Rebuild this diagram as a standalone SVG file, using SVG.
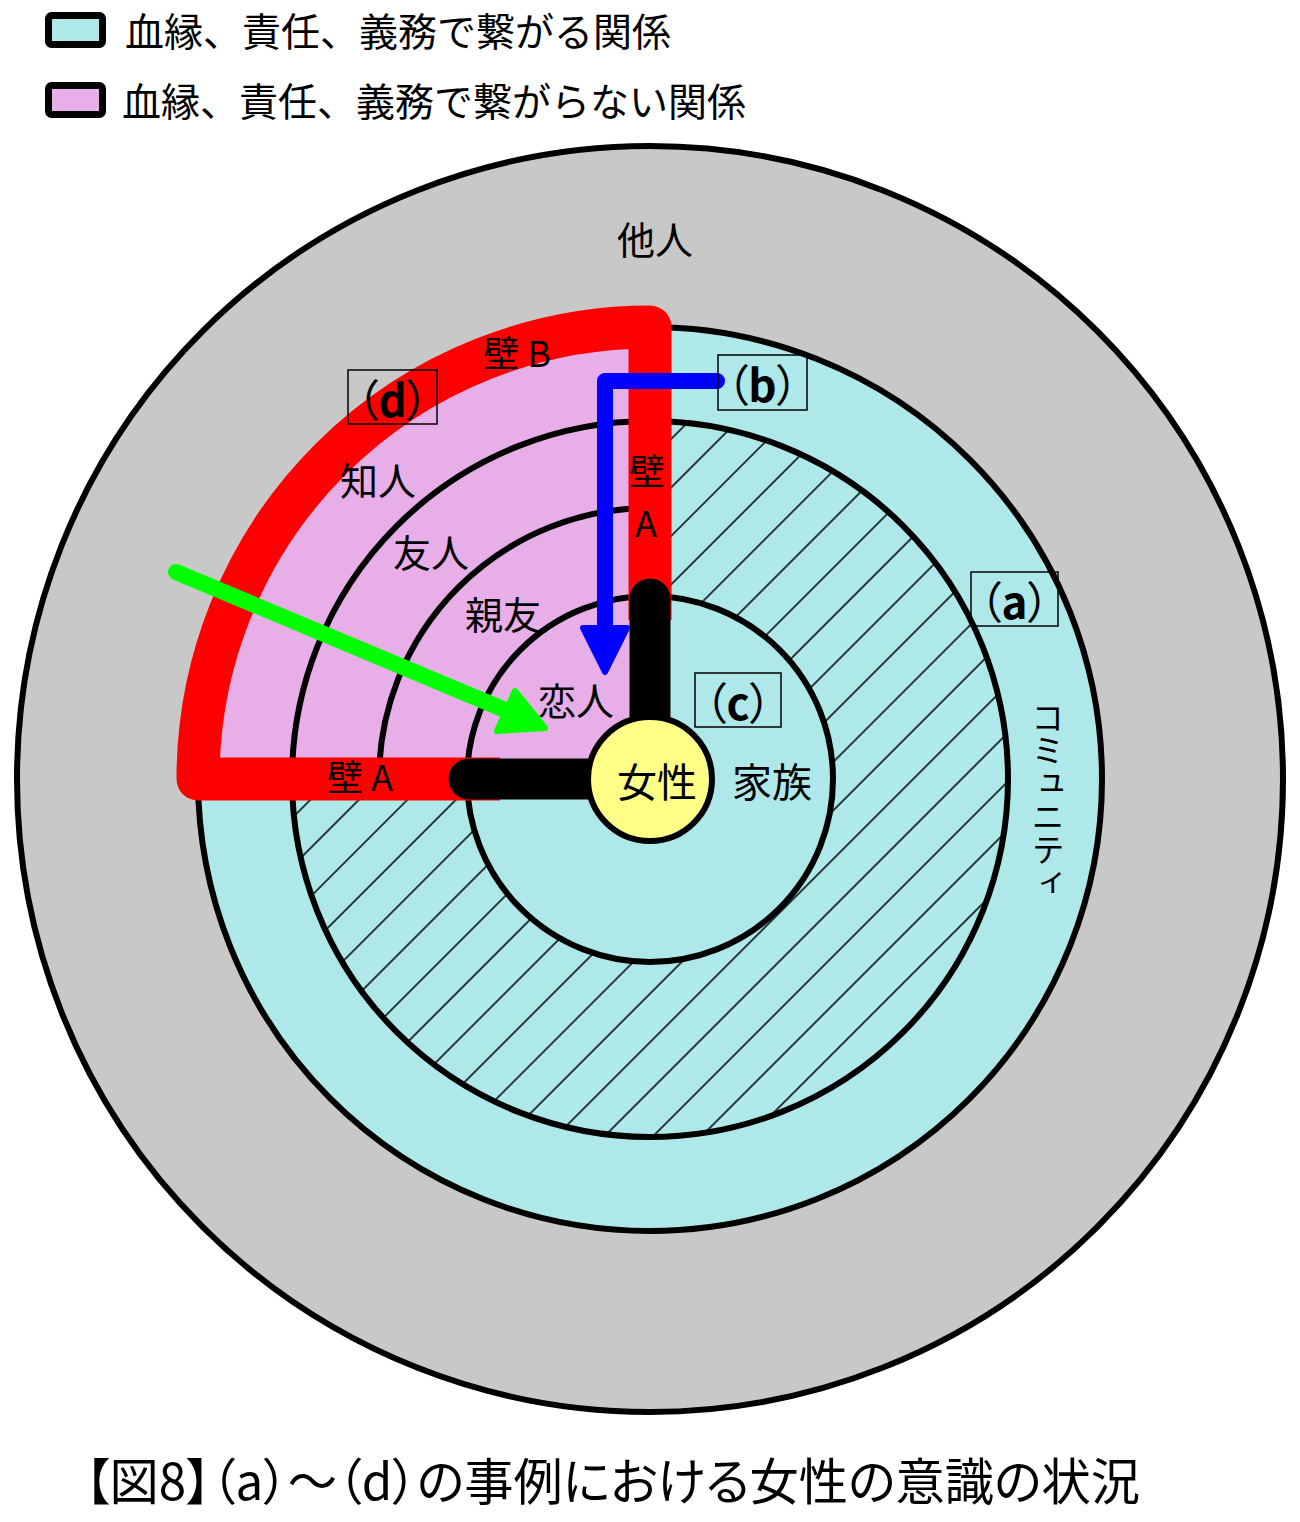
<svg xmlns="http://www.w3.org/2000/svg" width="1300" height="1522" viewBox="0 0 1300 1522">
<defs>
<pattern id="hatch" patternUnits="userSpaceOnUse" width="34.3" height="34.3" patternTransform="rotate(45)">
<line x1="30.4" y1="-1" x2="30.4" y2="35.3" stroke="#000" stroke-width="1.5"/>
</pattern>
</defs>
<style>
.t{font-family:"Noto Sans CJK JP","Noto Sans",sans-serif;fill:#000}
.lbl{font-size:38px;text-anchor:middle}
.box{fill:none;stroke:#000;stroke-width:1.5}
.tag{font-size:44px;text-anchor:middle;font-feature-settings:"palt"}
.ring{fill:none;stroke:#000;stroke-width:6}
</style>
<rect width="1300" height="1522" fill="#fff"/>

<g id="legend">
<rect x="48.5" y="15.5" width="54" height="29" rx="3" fill="#aee8e8" stroke="#000" stroke-width="7"/>
<text class="t" x="125" y="46" font-size="39">血縁、責任、義務で繋がる関係</text>
<rect x="48.5" y="85.5" width="54" height="29" rx="3" fill="#e8aee8" stroke="#000" stroke-width="7"/>
<text class="t" x="122" y="116" font-size="39">血縁、責任、義務で繋がらない関係</text>
</g>

<g id="others">
<circle cx="650" cy="779" r="633" fill="#c8c8c8" stroke="#000" stroke-width="6"/>
<text class="t lbl" x="655" y="254">他人</text>
</g>

<g id="community">
<circle cx="650" cy="779" r="452" fill="#aee8e8" stroke="#000" stroke-width="6"/>
</g>

<g id="friends-hatch">
<path d="M292,779 a358,358 0 1 0 716,0 a358,358 0 1 0 -716,0 Z M467,779 a183,183 0 1 0 366,0 a183,183 0 1 0 -366,0 Z" fill="url(#hatch)" fill-rule="evenodd"/>
</g>

<g id="non-kin-quadrant">
<path d="M650,779 L198,779 A452,452 0 0 1 650,327 Z" fill="#e8aee8"/>
</g>

<g id="rings">
<circle class="ring" cx="650" cy="779" r="358"/>
<circle class="ring" cx="650" cy="779" r="183"/>
<path class="ring" d="M379,779 A271,271 0 0 1 650,508"/>
</g>

<g id="wall-b">
<path d="M500,779 L198,779 A452,452 0 0 1 650,327 L650,620" fill="none" stroke="#ff0000" stroke-width="43" stroke-linejoin="round"/>
</g>

<g id="wall-a">
<line x1="650" y1="599" x2="650" y2="740" stroke="#000" stroke-width="41" stroke-linecap="round"/>
<line x1="469" y1="779" x2="610" y2="779" stroke="#000" stroke-width="41" stroke-linecap="round"/>
</g>

<g id="woman">
<circle cx="650" cy="779" r="62" fill="#ffff88" stroke="#000" stroke-width="6"/>
<text class="t" x="657" y="797" font-size="40" text-anchor="middle">女性</text>
</g>

<g id="connectors">
<path d="M717,381 L605,381 L605,632" fill="none" stroke="#0000ff" stroke-width="16" stroke-linecap="round" stroke-linejoin="round"/>
<polygon points="583,628 605,672 627,628" fill="#0000ff" stroke="#0000ff" stroke-width="6" stroke-linejoin="round"/>
<line x1="176" y1="572" x2="510" y2="712" stroke="#00ff00" stroke-width="16" stroke-linecap="round"/>
<polygon points="545,728 497,731 515,691" fill="#00ff00" stroke="#00ff00" stroke-width="6" stroke-linejoin="round"/>
</g>

<g id="labels">
<text class="t" x="517" y="367" font-size="36" text-anchor="middle">壁 B</text>
<text class="t" x="360" y="791" font-size="36" text-anchor="middle">壁 A</text>
<text class="t" x="647" y="485" font-size="36" text-anchor="middle">壁</text>
<text class="t" x="646" y="537" font-size="36" text-anchor="middle">A</text>
<text class="t lbl" x="378" y="495">知人</text>
<text class="t lbl" x="431" y="567">友人</text>
<text class="t lbl" x="503" y="629">親友</text>
<text class="t lbl" x="576" y="715">恋人</text>
<text class="t" x="772" y="797" font-size="40" text-anchor="middle">家族</text>
<text class="t" x="1048" y="701" font-size="33" style="writing-mode:vertical-rl">コミュニティ</text>
</g>

<g id="tag-a">
<rect class="box" x="971" y="572" width="87" height="54"/>
<text class="t tag" x="1014.5" y="619">（<tspan font-weight="700">a</tspan>）</text>
</g>
<g id="tag-b">
<rect class="box" x="718" y="355" width="89" height="55"/>
<text class="t tag" x="762.5" y="402">（<tspan font-weight="700">b</tspan>）</text>
</g>
<g id="tag-c">
<rect class="box" x="695" y="673" width="86" height="54"/>
<text class="t tag" x="738" y="720">（<tspan font-weight="700">c</tspan>）</text>
</g>
<g id="tag-d">
<rect class="box" x="348" y="370" width="89" height="54"/>
<text class="t tag" x="392.5" y="417">（<tspan font-weight="700">d</tspan>）</text>
</g>

<g id="caption">
<text class="t" x="85" y="1500" font-size="50" textLength="1055" lengthAdjust="spacingAndGlyphs" style="font-feature-settings:'palt'">【図8】（a）～（d）の事例における女性の意識の状況</text>
</g>
</svg>
